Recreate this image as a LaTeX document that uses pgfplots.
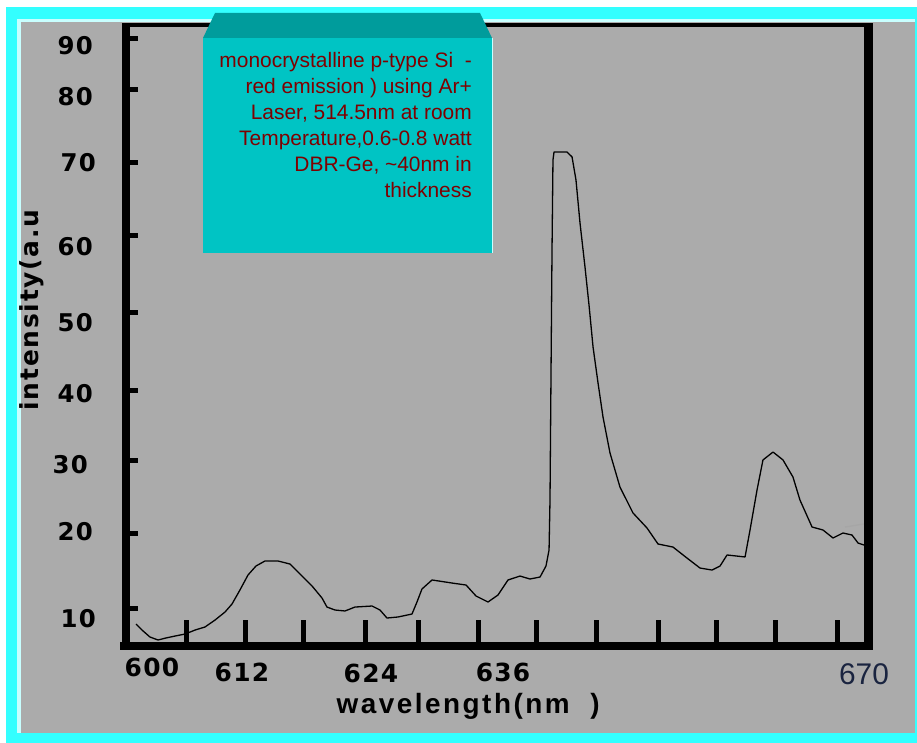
\documentclass[border=0pt]{standalone}
\usepackage{pgfplots}
\pgfplotsset{compat=1.18}
\usepackage{fontspec}
\setmainfont{Liberation Sans}
\newfontfamily\tickfont{DejaVu Sans}[LetterSpace=5]
\newfontfamily\xlabfont{Liberation Sans}[LetterSpace=9]
\newfontfamily\ylabfont{DejaVu Sans}[LetterSpace=7]

\definecolor{frameCyan}{HTML}{33FFFF}
\definecolor{paleCyan}{HTML}{C8FFFF}
\definecolor{panelGray}{HTML}{ABABAB}
\definecolor{boxTeal}{HTML}{00C4C4}
\definecolor{boxTop}{HTML}{009C9C}
\definecolor{noteRed}{HTML}{7F0000}
\definecolor{navyNum}{HTML}{1A2440}

\begin{document}
\begin{tikzpicture}[x=1bp,y=1bp]
\useasboundingbox (0,0) rectangle (917,743);
% page frame
\fill[white] (0,0) rectangle (917,743);
\fill[frameCyan] (6,0) rectangle (917,736);
\fill[paleCyan] (17,10) rectangle (915,724);
\fill[panelGray] (21,10) rectangle (915,721);

% data axis, x tick marks
\begin{axis}[
    at={(126bp,97bp)}, anchor=south west,
    scale only axis, width=742bp, height=621bp,
    xmin=600, xmax=670, ymin=4.88, ymax=88.6,
    axis line style={draw=none},
    tick align=inside, xtick pos=bottom,
    xtick={605.75,611.32,616.79,622.55,627.55,633.30,638.68,644.43,650.19,655.75,661.23,667.08},
    xticklabels={},
    ytick=\empty,
    major tick length=26bp,
    tick style={line width=5bp, black},
]
\addplot[black, line width=1.3bp, line join=round] coordinates {
  (600.94,7.84) (601.51,7.03) (602.26,6.09) (603.02,5.69) (603.77,5.96)
  (604.62,6.22) (605.57,6.49) (606.51,7.03) (607.45,7.44) (608.40,8.38)
  (609.34,9.46) (610.00,10.54) (610.75,12.43) (611.51,14.45) (612.26,15.66)
  (613.11,16.34) (614.34,16.34) (615.47,15.93) (616.42,14.58) (617.55,12.97)
  (618.49,11.35) (618.96,10.13) (619.72,9.73) (620.66,9.60) (621.60,10.13)
  (623.21,10.27) (623.96,9.73) (624.62,8.65) (625.66,8.79) (626.98,9.19)
  (627.45,10.81) (627.92,12.56) (628.87,13.78) (630.75,13.37) (632.08,13.10)
  (633.02,11.62) (634.15,10.81) (635.09,11.75) (636.04,13.78) (637.17,14.31)
  (638.11,13.91) (639.06,14.18) (639.62,15.66) (639.91,17.82) (640.00,24.56)
  (640.09,40.74) (640.19,58.27) (640.28,70.40) (640.38,71.48) (641.60,71.48)
  (642.08,70.81) (642.45,67.71) (642.83,61.91) (643.30,55.98) (643.68,50.85)
  (644.06,45.19) (644.53,40.34) (645.00,35.75) (645.66,30.90) (646.60,26.31)
  (647.83,22.81) (649.15,20.79) (650.19,18.63) (651.60,18.22) (652.92,16.74)
  (654.15,15.39) (655.28,15.12) (656.04,15.66) (656.70,17.15) (658.40,16.88)
  (658.87,20.52) (659.53,25.91) (660.09,29.96) (661.04,31.03) (661.98,29.96)
  (662.92,27.66) (663.58,24.56) (664.72,20.92) (665.75,20.52) (666.70,19.44)
  (667.64,20.11) (668.49,19.84) (669.06,18.76) (669.62,18.49)
};
\addplot[gray!70, line width=1.3bp] coordinates {(667.83,20.92) (669.62,21.33)};
\end{axis}

% overlay axis: y tick marks, tick labels and axis labels
\begin{axis}[
    at={(126bp,97bp)}, anchor=south west,
    scale only axis, width=742bp, height=621bp,
    xmin=600, xmax=670, ymin=4.88, ymax=88.6,
    axis line style={draw=none},
    tick align=inside, xtick pos=bottom, ytick pos=left,
    major tick length=12bp,
    tick style={line width=5bp, black},
    xtick style={draw=none},
    ytick style={draw=black, line width=5bp},
    ytick={86.72,79.84,70.0,60.16,49.78,39.39,29.82,19.98,10.0},
    yticklabels={\raisebox{-7bp}{90},\raisebox{-7bp}{80},70\kern-3bp,\raisebox{-11bp}{60},
      \raisebox{-10bp}{50},\raisebox{-3bp}{40},\raisebox{-4bp}{30}\kern5bp,\raisebox{2bp}{20},
      \raisebox{-10bp}{10}\kern-3bp},
    yticklabel style={font=\tickfont\bfseries\fontsize{24.5}{25}\selectfont,
      anchor=base east, inner sep=0pt, xshift=-33bp, yshift=-9bp},
    xtick={602.45,610.94,623.11,635.57,669.62},
    xticklabels={\raisebox{5bp}{600},612,\raisebox{-1bp}{624},636,
      {\normalfont\mdseries\fontsize{30}{30}\selectfont\color{navyNum}\raisebox{-3bp}{670}}},
    xticklabel style={font=\tickfont\bfseries\fontsize{25}{26}\selectfont,
      anchor=base, inner sep=0pt, yshift=-36bp},
    xlabel={wavelength(nm~~)},
    xlabel style={font=\xlabfont\bfseries\fontsize{28}{28}\selectfont,
      at={(axis description cs:0.461,-0.0966)}, anchor=center},
    ylabel={intensity(a.u},
    ylabel style={font=\ylabfont\bfseries\fontsize{25}{25}\selectfont,
      at={(axis description cs:-0.1267,0.541)}, anchor=center},
]
\end{axis}

% heavy frame lines
\draw[line width=8bp] (126,93) -- (126,720);
\draw[line width=8bp] (120,97) -- (872,97);
\draw[line width=9bp] (868,93) -- (868,720);
\draw[line width=4bp] (122,718) -- (872,718);

% note box
\fill[boxTeal] (203,490) rectangle (492,705);
\fill[boxTop] (203,705) -- (215,730) -- (480,730) -- (492,705) -- cycle;
\draw[paleCyan, line width=1bp] (492,490) -- (492,705);
\begin{scope}[every node/.style={anchor=base east, inner sep=0pt, text=noteRed,
    font=\fontsize{21}{21}\selectfont}]
\node at (472,675) {monocrystalline p-type Si\ \ -};
\node at (472,649) {red emission ) using Ar+};
\node at (472,623) {Laser, 514.5nm at room};
\node at (472,597) {Temperature,0.6-0.8 watt};
\node at (472,571) {DBR-Ge, \textasciitilde40nm in};
\node at (472,545) {thickness};
\end{scope}
\end{tikzpicture}
\end{document}
